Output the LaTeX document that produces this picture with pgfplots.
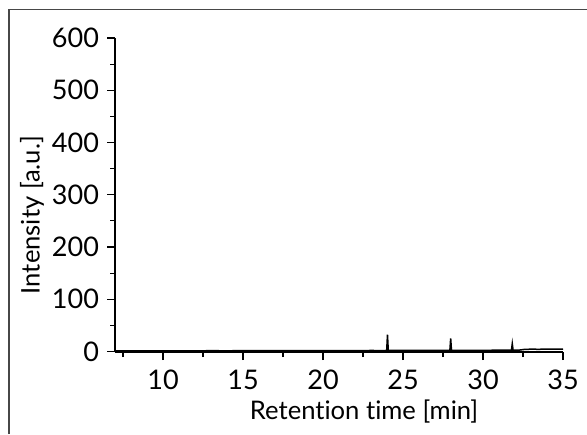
\documentclass[border=0pt]{standalone}
\usepackage{pgfplots}
\pgfplotsset{compat=1.18}
\usepackage{fontspec}
\setmainfont{Lato}[Ligatures=NoCommon]
\begin{document}
\begin{tikzpicture}
\useasboundingbox (0,0) rectangle (293.5pt,217pt);
\draw[line width=0.8pt, color=black!72] (4.4pt,0) -- (4.4pt,212.3pt) -- (293.5pt,212.3pt);
\begin{axis}[
  at={(57.5pt,41pt)}, anchor=south west,
  scale only axis, width=224pt, height=157pt,
  xmin=7, xmax=35, ymin=-1, ymax=600,
  axis x line*=bottom, axis y line*=left,
  axis line style={-, line width=0.6pt},
  tick style={line width=0.6pt, black},
  tick align=outside,
  major tick length=4pt, minor tick length=2.5pt,
  xtick={10,15,20,25,30,35},
  minor xtick={7.5,12.5,17.5,22.5,27.5,32.5},
  ytick={0,100,200,300,400,500,600},
  minor ytick={50,150,250,350,450,550},
  /pgf/number format/assume math mode=true,
  ticklabel style={font=\fontsize{13.5}{15}\selectfont},
  xticklabel style={yshift=-1.5pt},
  yticklabel style={xshift=-0.5pt},
  xlabel={Retention time [min]},
  ylabel={Intensity [a.u.]},
  label style={font=\fontsize{12.8}{15}\selectfont},
  xlabel style={at={(axis description cs:0.556,-0.19)}, anchor=center},
  ylabel style={at={(axis description cs:-0.185,0.436)}, anchor=center},
  clip=false,
]
\addplot[black, line width=0.75pt] coordinates {
(7.0,1.2)(8.0,1.0)(9.0,1.3)(10.0,1.1)(11.0,1.4)(12.0,1.2)(13.0,1.5)(14.0,1.3)
(15.0,1.6)(16.0,1.4)(17.0,1.7)(18.0,1.5)(19.0,1.8)(20.0,1.6)(21.0,1.8)(22.0,1.7)
(23.0,1.9)(23.98,1.8)(24.03,32)(24.08,1.9)(25.0,1.9)(26.0,2.1)(27.0,2.0)
(27.93,2.2)(27.98,25)(28.03,2.2)(29.0,2.3)(30.0,2.2)(31.0,2.5)(31.78,2.6)(31.83,15)(31.88,2.7)
(32.3,2.8)(32.6,4.0)(33.0,4.4)(33.5,4.2)(34.0,4.6)(34.5,4.3)(35.0,4.5)
};
\end{axis}
\end{tikzpicture}
\end{document}
